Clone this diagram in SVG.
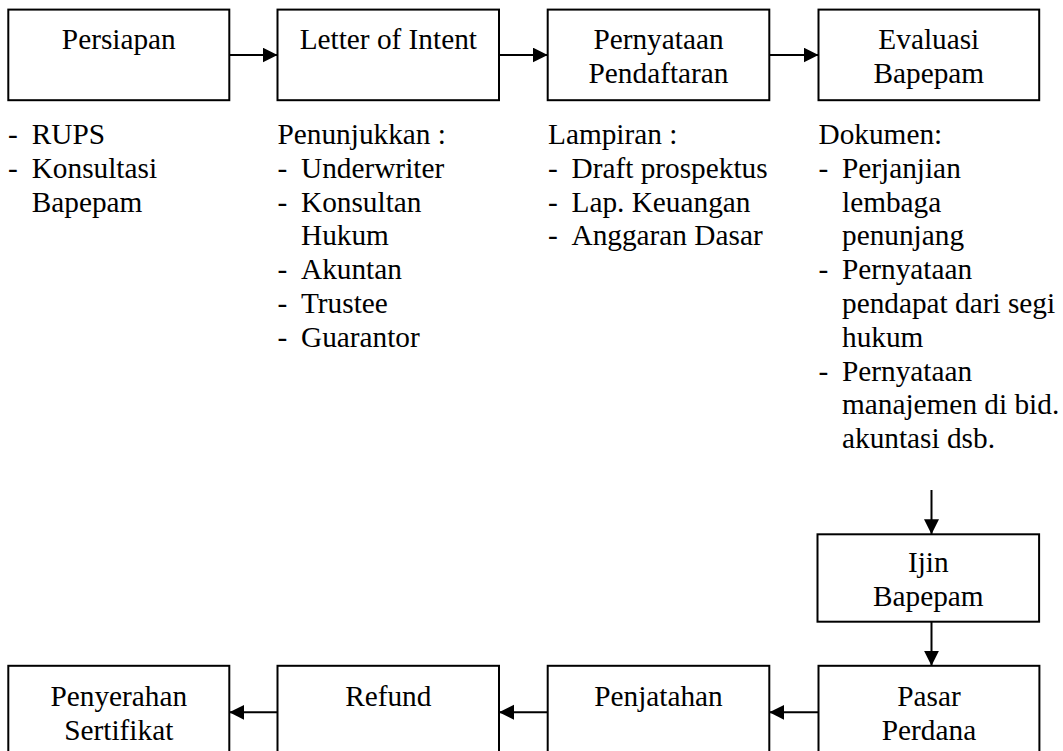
<svg xmlns="http://www.w3.org/2000/svg" width="1063" height="751" viewBox="0 0 1063 751">
<style>
text{font-family:"Liberation Serif","Times New Roman",serif;font-size:29.3px;fill:#000}
.c{text-anchor:middle}
.box{fill:#fff;stroke:#000;stroke-width:2}
.ln{fill:none;stroke:#000;stroke-width:2;marker-end:url(#ah)}
</style>
<defs>
<marker id="ah" markerUnits="userSpaceOnUse" markerWidth="16" markerHeight="16" refX="15" refY="7.5" orient="auto">
<path d="M0,0 L15,7.5 L0,15 Z" fill="#000"/>
</marker>
</defs>
<rect width="1063" height="751" fill="#fff"/>
<g id="connectors">
<line class="ln" x1="229.3" y1="55" x2="277.5" y2="55"/>
<line class="ln" x1="499" y1="55" x2="547.7" y2="55"/>
<line class="ln" x1="769.3" y1="55" x2="818.5" y2="55"/>
<line class="ln" x1="931.5" y1="490" x2="931.5" y2="534.3"/>
<line class="ln" x1="931.5" y1="621.7" x2="931.5" y2="665.8"/>
<line class="ln" x1="818.5" y1="712.3" x2="769.3" y2="712.3"/>
<line class="ln" x1="547.7" y1="712.3" x2="499" y2="712.3"/>
<line class="ln" x1="277.5" y1="712.3" x2="229.3" y2="712.3"/>
</g>
<g id="persiapan">
<rect class="box" x="8.3" y="9.6" width="221" height="90.6"/>
<text class="c" x="118.8" y="48.5">Persiapan</text>
</g>
<g id="letter-of-intent">
<rect class="box" x="277.5" y="9.6" width="221.5" height="90.6"/>
<text class="c" x="388.3" y="48.5">Letter of Intent</text>
</g>
<g id="pernyataan-pendaftaran">
<rect class="box" x="547.7" y="9.6" width="221.6" height="90.6"/>
<text class="c" x="658.5" y="48.5">Pernyataan</text>
<text class="c" x="658.5" y="82.5">Pendaftaran</text>
</g>
<g id="evaluasi-bapepam">
<rect class="box" x="818.5" y="9.6" width="220.7" height="90.6"/>
<text class="c" x="928.8" y="48.5">Evaluasi</text>
<text class="c" x="928.8" y="82.5">Bapepam</text>
</g>
<g id="list-persiapan">
<text x="8" y="144">-</text><text x="31.7" y="144">RUPS</text>
<text x="8" y="177.8">-</text><text x="31.7" y="177.8">Konsultasi</text>
<text x="31.7" y="211.6">Bapepam</text>
</g>
<g id="list-letter">
<text x="277.5" y="144">Penunjukkan :</text>
<text x="277.5" y="177.8">-</text><text x="301" y="177.8">Underwriter</text>
<text x="277.5" y="211.6">-</text><text x="301" y="211.6">Konsultan</text>
<text x="301" y="245.4">Hukum</text>
<text x="277.5" y="279.2">-</text><text x="301" y="279.2">Akuntan</text>
<text x="277.5" y="313">-</text><text x="301" y="313">Trustee</text>
<text x="277.5" y="346.8">-</text><text x="301" y="346.8">Guarantor</text>
</g>
<g id="list-pernyataan">
<text x="548" y="144">Lampiran :</text>
<text x="548" y="177.8">-</text><text x="571.5" y="177.8">Draft prospektus</text>
<text x="548" y="211.6">-</text><text x="571.5" y="211.6">Lap. Keuangan</text>
<text x="548" y="245.4">-</text><text x="571.5" y="245.4">Anggaran Dasar</text>
</g>
<g id="list-evaluasi">
<text x="818.5" y="144">Dokumen:</text>
<text x="818.5" y="177.8">-</text><text x="842" y="177.8">Perjanjian</text>
<text x="842" y="211.6">lembaga</text>
<text x="842" y="245.4">penunjang</text>
<text x="818.5" y="279.2">-</text><text x="842" y="279.2">Pernyataan</text>
<text x="842" y="313">pendapat dari segi</text>
<text x="842" y="346.8">hukum</text>
<text x="818.5" y="380.6">-</text><text x="842" y="380.6">Pernyataan</text>
<text x="842" y="414.4">manajemen di bid.</text>
<text x="842" y="448.2">akuntasi dsb.</text>
</g>
<g id="ijin-bapepam">
<rect class="box" x="817.5" y="534.3" width="221.6" height="87.4"/>
<text class="c" x="928.3" y="572">Ijin</text>
<text class="c" x="928.3" y="605.8">Bapepam</text>
</g>
<g id="pasar-perdana">
<rect class="box" x="818.5" y="665.8" width="220.9" height="100"/>
<text class="c" x="929" y="705.5">Pasar</text>
<text class="c" x="929" y="739.5">Perdana</text>
</g>
<g id="penjatahan">
<rect class="box" x="547.7" y="665.8" width="221.6" height="100"/>
<text class="c" x="658.5" y="705.5">Penjatahan</text>
</g>
<g id="refund">
<rect class="box" x="277.5" y="665.8" width="221.5" height="100"/>
<text class="c" x="388.3" y="705.5">Refund</text>
</g>
<g id="penyerahan-sertifikat">
<rect class="box" x="8.3" y="665.8" width="221" height="100"/>
<text class="c" x="118.8" y="705.5">Penyerahan</text>
<text class="c" x="118.8" y="739.5">Sertifikat</text>
</g>
</svg>
